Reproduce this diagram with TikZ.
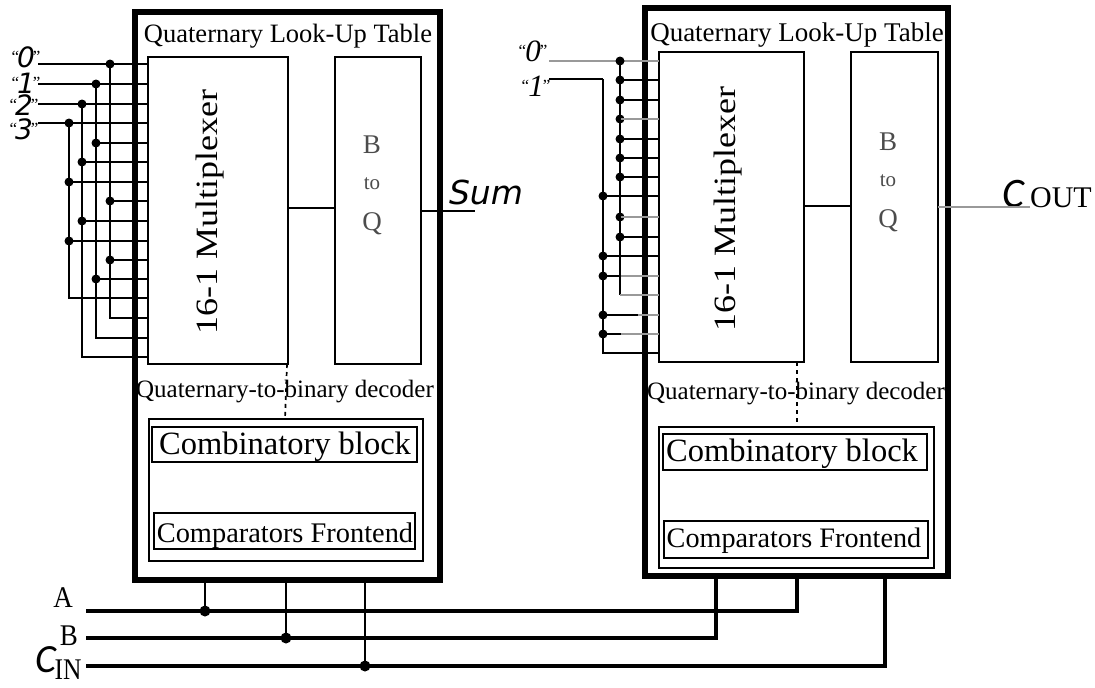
\documentclass[tikz,border=0pt]{standalone}
\usepackage{fontspec}
\usepackage{graphicx}
\setmainfont{Liberation Serif}
\newfontfamily\sumfont{DejaVu Sans}
\newfontfamily\capfont{Carlito}
\newcommand{\qd}[1]{{\fontsize{17}{17}\selectfont\raisebox{5pt}{``}}\hspace{-2pt}{\sumfont\itshape\fontsize{28}{28}\selectfont #1}\hspace{-2pt}{\fontsize{17}{17}\selectfont\raisebox{5pt}{''}}}
\newcommand{\qs}[1]{{\fontsize{17}{17}\selectfont\raisebox{5pt}{``}}\hspace{-1pt}{\itshape\fontsize{31}{31}\selectfont #1}\hspace{-1pt}{\fontsize{17}{17}\selectfont\raisebox{5pt}{''}}}
\begin{document}
\begin{tikzpicture}[x=1pt,y=-1pt,
  frame/.style={draw,line width=6pt,outer sep=0pt},
  blockbox/.style={draw,line width=1.5pt,outer sep=0pt},
  wire/.style={line width=1.7pt},
  graywire/.style={line width=1.7pt,draw=black!40},
  dotn/.style={fill,circle,inner sep=0pt,minimum size=9pt},
  lbl/.style={inner sep=0pt,anchor=center},
]
\useasboundingbox (0,0) rectangle (1095,688);
\path[fill=white] (0,0) rectangle (1095,688);
% boxes
\newcommand{\bx}[6]{\node[#1,inner sep=0pt,minimum width=#4pt-#3pt,minimum height=#6pt-#5pt,anchor=north west] (#2) at (#3,#5) {};}
\bx{frame}{lut1}{135}{440}{12}{580}
\bx{frame}{lut2}{645}{948}{8}{576}
\bx{blockbox}{mux1}{148}{288}{57}{364}
\bx{blockbox}{btq1}{335}{421}{57}{364}
\bx{blockbox}{mux2}{659}{804}{52}{362}
\bx{blockbox}{btq2}{851}{938}{52}{362}
\bx{blockbox}{comb1}{149}{423}{419}{561}
\bx{blockbox}{ci1}{152}{417}{427}{462}
\bx{blockbox}{cf1}{154}{415}{513}{549}
\bx{blockbox}{comb2}{659}{934}{427}{568}
\bx{blockbox}{ci2}{663}{927}{434}{470}
\bx{blockbox}{cf2}{664}{928}{521}{558}
% text
\tikzset{bq/.style={lbl,font=\fontsize{27}{27}\selectfont,text=black!70},
  tol/.style={lbl,font=\fontsize{21}{21}\selectfont,text=black!70},
  mx/.style={lbl,rotate=90,font=\fontsize{31}{31}\selectfont},
  qn/.style={lbl}}
\node[lbl,font=\fontsize{26.5}{26.5}\selectfont] (title1) at (288,36) {Quaternary Look-Up Table};
\node[lbl,font=\fontsize{27}{27}\selectfont] (title2) at (797,35) {Quaternary Look-Up Table};
\node[mx] (ml1) at (210,212) {\scalebox{1.16}[1]{16-1 Multiplexer}};
\node[mx] (ml2) at (728,209) {\scalebox{1.16}[1]{16-1 Multiplexer}};
\node[bq] (b1) at (372,145) {B};
\node[tol] (to1) at (372,184) {to};
\node[bq] (q1) at (372,224) {Q};
\node[bq] (b2) at (888,142) {B};
\node[tol] (to2) at (888,181) {to};
\node[bq] (q2) at (888,221) {Q};
\node[lbl,font=\fontsize{25}{25}\selectfont] (dec1) at (285,392) {Quaternary-to-binary decoder};
\node[lbl,font=\fontsize{25}{25}\selectfont] (dec2) at (796,394) {Quaternary-to-binary decoder};
\node[lbl,font=\fontsize{32.5}{32.5}\selectfont] (cb1) at (285,447) {Combinatory block};
\node[lbl,font=\fontsize{32.5}{32.5}\selectfont] (cb2) at (792,454) {Combinatory block};
\node[lbl,font=\fontsize{28.4}{28.4}\selectfont] (cfl1) at (285,536) {Comparators Frontend};
\node[lbl,font=\fontsize{28.2}{28.2}\selectfont] (cfl2) at (794,541) {Comparators Frontend};
\node[lbl,font=\sumfont\itshape\fontsize{33}{33}\selectfont] (sum) at (486,192) {Sum};
\node[lbl,anchor=west] (cout) at (1002,194) {\capfont\itshape\fontsize{42}{42}\selectfont C\hspace{6pt}{\rmfamily\upshape\fontsize{30}{30}\selectfont OUT}};
\node[lbl] (la) at (63,598) {\fontsize{30}{30}\selectfont\scalebox{.9}[1]{A}};
\node[lbl] (lb) at (69,636) {\fontsize{30}{30}\selectfont\scalebox{.9}[1]{B}};
\node[lbl,anchor=west] (lc) at (35,660) {\capfont\itshape\fontsize{40}{40}\selectfont C};
\node[lbl] (lin) at (68,670) {\fontsize{30}{30}\selectfont\scalebox{.85}[1]{IN}};
\node[qn] (z1) at (26,57) {\qd{0}};
\node[qn] (o1) at (26,83) {\qd{1}};
\node[qn] (t1) at (24,105) {\qd{2}};
\node[qn] (h1) at (24,129) {\qd{3}};
\node[qn] (z2) at (533,51) {\qs{0}};
\node[qn] (o2) at (536,86) {\qs{1}};
% left input wires
\foreach \y/\bu in {64/110,84/96,104/82,123/69}{
  \coordinate (s) at (38,\y);
  \node[dotn] (d) at (\bu,\y) {};
  \draw[wire] (s) -- (mux1.west |- s);
}
\foreach \y/\bu in {143/96,162/82,182/69,201/110,221/82,241/69,260/110,279/96}{
  \coordinate (s) at (\bu,\y);
  \node[dotn] (d) at (s) {};
  \draw[wire] (d.center) -- (mux1.west |- s);
}
\foreach \bu/\top/\y in {69/123/298,110/64/318,96/84/338,82/104/357}{
  \coordinate (u) at (\bu,\top);
  \coordinate (v) at (\bu,\y);
  \draw[wire] (u) -- (v) -- (mux1.west |- v);
}
% right input wires
\coordinate (r0) at (549,61);
\coordinate (r1) at (549,79);
\coordinate (bA) at (620,61);
\coordinate (bB) at (603,79);
\draw[graywire] (r0) -- (mux2.west |- r0);
\draw[wire] (r1) -- (bB);
\foreach \y/\gr in {80/0,100/0,119/1,139/0,158/0,177/0,217/1,237/0}{
  \coordinate (s) at (620,\y);
  \node[dotn] (d) at (s) {};
  \ifnum\gr=1
    \draw[graywire] (d.center) -- (mux2.west |- s);
  \else
    \draw[wire] (d.center) -- (mux2.west |- s);
  \fi
}
\node[dotn] (dA) at (bA) {};
\foreach \y/\e in {196/659,256/659,276/621,315/638,334/621}{
  \coordinate (s) at (603,\y);
  \node[dotn] (d) at (s) {};
  \coordinate (e) at (\e,\y);
  \draw[graywire] (e) -- (mux2.west |- s);
  \draw[wire] (d.center) -- (e);
}
\coordinate (cA) at (620,295);
\draw[wire] (bA) -- (cA);
\draw[graywire] (cA) -- (mux2.west |- cA);
\coordinate (cB) at (603,353);
\draw[wire] (bB) -- (cB) -- (mux2.west |- cB);
% inner
\draw[wire] (mux1.east |- 0,208) coordinate (p) -- (btq1.west |- p);
\draw[wire] (mux2.east |- 0,206) coordinate (p) -- (btq2.west |- p);
\coordinate (se) at (475,211);
\draw[wire] (btq1.east |- se) -- (se);
\coordinate (ce) at (1030,207);
\draw[graywire] (btq2.east |- ce) -- (ce);
\draw[wire,dash pattern=on 4pt off 4pt] (287,364) -- (285,419);
\draw[wire,dash pattern=on 4pt off 4pt] (797,362) -- (797,427);
% bottom buses
\coordinate (A0) at (86,611); \coordinate (A1) at (797,611);
\coordinate (B0) at (86,638); \coordinate (B1) at (716,638);
\coordinate (C0) at (86,666); \coordinate (C1) at (885,666);
\draw[line width=3.4pt] (A0) -- (A1) -- (lut2.south -| A1);
\draw[line width=3.4pt] (B0) -- (B1) -- (lut2.south -| B1);
\draw[line width=3.4pt] (C0) -- (C1) -- (lut2.south -| C1);
\foreach \x/\c in {205/A0,286/B0,365/C0}{
  \coordinate (k) at (\x,0);
  \node[dotn,minimum size=11pt] (d) at (k |- \c) {};
  \draw[line width=2.6pt] (d.center) -- (lut1.south -| k);
}
\end{tikzpicture}
\end{document}
